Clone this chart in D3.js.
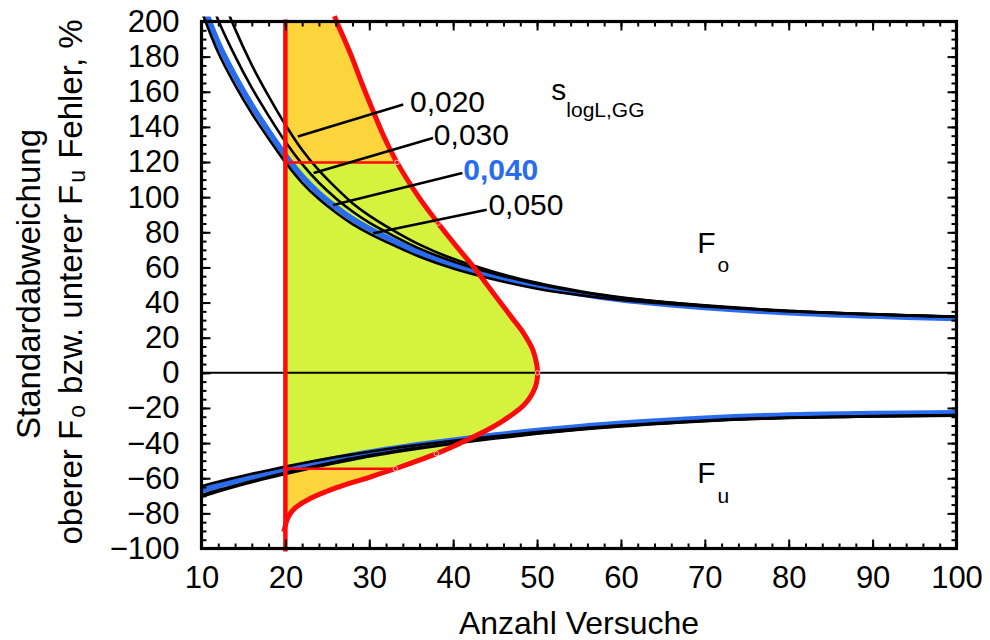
<!DOCTYPE html>
<html>
<head>
<meta charset="utf-8">
<script src="https://cdn.jsdelivr.net/npm/d3@7/dist/d3.min.js"></script>
<style>
  html, body { margin: 0; padding: 0; background: #ffffff; }
  svg { display: block; font-family: "Liberation Sans", Arial, sans-serif; }
</style>
</head>
<body>
<svg id="chart" width="990" height="640"></svg>
<script>
// ---------------- DATA ----------------
const nValues = [10,12,14,16,18,20,22,24,26,28,30,33,36,40,45,50,55,60,70,80,90,100];

// upper error F_o (%) for s_logL,GG
const foS020 = [250,219.7,195.8,175.2,157.5,141.2,126.8,115.2,105.4,96.6,89.5,80.7,73,64.9,57.3,51.2,46.6,43,38.4,35.3,33.4,32];
const foS030 = [228,200.7,180.3,162.2,146.3,131.5,118.8,108.2,99.4,91.8,85.5,77.7,70.7,63.4,56.3,50.6,46.2,42.7,38.2,35.1,33.2,31.8];
const foS040 = [212,187.7,168.8,152.2,137.5,123.7,111.8,102.2,94.4,87.6,82,74.9,68.5,61.7,55,49.4,45.1,41.7,37.3,34.3,32.4,31];
const foS050 = [206,182.2,163.8,147.6,133.3,119.8,108.2,98.9,91.3,84.7,79.3,72.4,66.1,59.4,53,47.9,44.3,41.5,37.8,35.1,33.3,31.9];

// lower error F_u (%)
const fuS020 = [-70.6,-67.6,-64.9,-62.3,-59.9,-57.6,-55.4,-53.3,-51.3,-49.4,-47.6,-45.2,-43,-40.4,-37.4,-34.7,-32.4,-30.5,-27.5,-25.7,-24.9,-24.4];
const fuS030 = [-69.6,-66.7,-64.1,-61.6,-59.2,-56.9,-54.7,-52.6,-50.6,-48.7,-47,-44.6,-42.5,-39.9,-37,-34.4,-32.2,-30.3,-27.4,-25.6,-24.8,-24.3];
const fuS040 = [-67,-64.2,-61.7,-59.3,-57,-54.8,-52.7,-50.7,-48.8,-47,-45.3,-43,-40.9,-38.4,-35.5,-32.9,-30.7,-28.8,-25.9,-24.1,-23.3,-22.8];
const fuS050 = [-64.6,-62,-59.7,-57.5,-55.4,-53.4,-51.5,-49.7,-48,-46.4,-44.9,-42.8,-40.9,-38.7,-36.1,-33.7,-31.7,-29.9,-27.1,-25.4,-24.6,-24.1];

// red distribution curve (error value -> number of tests)
const redV = [-90.5,-88,-85,-82,-79,-76.4,-71.7,-65.4,-59.3,-54.6,-50,-46,-41.5,-37.4,-32.7,-28,-23.2,-18.5,-13.7,-8,-4,0,5,13,22.5,32,41.5,51,60.5,72,85.2,100,119.8,135,149.7,165,180,200,203];
const redN = [19.8,19.95,20.1,20.35,20.75,21.3,22.9,26.1,30.1,33.1,35.8,38.0,40.2,42.0,44.0,45.7,47.2,48.4,49.2,49.8,50.0,50.06,49.95,49.5,48.4,46.9,45.4,43.9,42.4,40.4,38.2,35.9,33.3,31.7,30.4,29.1,27.9,26.1,25.85];

const markerN = [33.3,38.2,50.06,38.0,33.1];
const markerV = [119.8,85.2,0,-46,-54.6];

const minTests = 20;
const bandUpper = 119.8;
const bandLower = -54.6;
const bandUpperN = 33.3;
const bandLowerN = 33.1;

// curve labels and leaders
const labelTexts = ["0,020","0,030","0,040","0,050"];
const leaderStartN = [34.05,37.6,41.1,44.0];
const leaderStartV = [152.7,133.7,113.7,92.8];
const leaderEndN = [21.48,23.37,25.7,30.47];
const leaderEndV = [134.6,113.7,95.6,79.5];
const labelN = [34.85,37.7,41.2,44.2];
const labelV = [148.7,129.9,109.9,89.9];

const xMajor = [10,20,30,40,50,60,70,80,90,100];
const xMinor = d3.range(10,101,2);
const yMajor = [-100,-80,-60,-40,-20,0,20,40,60,80,100,120,140,160,180,200];
const yMinor = d3.range(-100,201,5);

// ---------------- CHART ----------------
const svg = d3.select("#chart");
const x = d3.scaleLinear().domain([10,100]).range([201.5,956.5]);
const y = d3.scaleLinear().domain([-100,200]).range([548.5,21.5]);

const BLUE = "#2a6cf0";
const RED = "#ff0a0a";
const ORANGE = "#fcd43b";
const GREEN = "#d5f23e";

const defs = svg.append("defs");
defs.append("clipPath").attr("id","plotClip").append("rect")
  .attr("x", x(10)-3).attr("y", y(200)-5)
  .attr("width", x(100)-x(10)+6).attr("height", y(-100)-y(200)+5);
defs.append("clipPath").attr("id","greenClip").append("rect")
  .attr("x", x(10)).attr("y", y(bandUpper))
  .attr("width", x(100)-x(10)).attr("height", y(bandLower)-y(bandUpper));
defs.append("clipPath").attr("id","innerClip").append("rect")
  .attr("x", x(10)).attr("y", y(200))
  .attr("width", x(100)-x(10)).attr("height", y(-100)-y(200));

const redData = redV.map((v,i)=>({v, n: redN[i]}));

// fills
const area = d3.area()
  .y(d=>y(d.v)).x0(x(minTests)).x1(d=>x(d.n))
  .curve(d3.curveCatmullRom);
svg.append("path").datum(redData.filter(d=>d.v>=-88))
  .attr("d", area).attr("fill", ORANGE).attr("clip-path","url(#innerClip)");
svg.append("path").datum(redData)
  .attr("d", area).attr("fill", GREEN).attr("clip-path","url(#greenClip)");

// zero line
svg.append("line")
  .attr("x1", x(10)).attr("x2", x(100)).attr("y1", y(0)).attr("y2", y(0))
  .attr("stroke","#000").attr("stroke-width",2);

// error curves
const plot = svg.append("g").attr("clip-path","url(#plotClip)");
const line = d3.line().x(d=>x(d[0])).y(d=>y(d[1])).curve(d3.curveCatmullRom);
const series = (vals)=> nValues.map((n,i)=>[n, vals[i]]);

[foS040, fuS040].forEach(vals=>{
  plot.append("path").datum(series(vals)).attr("d", line)
    .attr("fill","none").attr("stroke", BLUE).attr("stroke-width",5.8);
});
[foS050, foS030, foS020, fuS050, fuS030, fuS020].forEach(vals=>{
  plot.append("path").datum(series(vals)).attr("d", line)
    .attr("fill","none").attr("stroke","#000").attr("stroke-width",2.6);
});

// red horizontal lines
[[bandUpper,bandUpperN],[bandLower,bandLowerN]].forEach(([v,n])=>{
  svg.append("line")
    .attr("x1", x(minTests)).attr("x2", x(n)).attr("y1", y(v)).attr("y2", y(v))
    .attr("stroke", RED).attr("stroke-width",2.5);
});

// red distribution curve
const redLine = d3.line().x(d=>x(d.n)).y(d=>y(d.v)).curve(d3.curveCatmullRom);
svg.append("path").datum(redData).attr("d", redLine)
  .attr("fill","none").attr("stroke", RED).attr("stroke-width",5)
  .attr("stroke-linejoin","round");

// red vertical line
svg.append("line")
  .attr("x1", x(minTests)).attr("x2", x(minTests))
  .attr("y1", y(200)-2).attr("y2", y(-100)+3)
  .attr("stroke", RED).attr("stroke-width",4.5);

// markers
svg.selectAll("circle.mk").data(markerN.map((n,i)=>({n, v: markerV[i]})))
  .enter().append("circle")
  .attr("cx", d=>x(d.n)).attr("cy", d=>y(d.v)).attr("r",2.3)
  .attr("fill","none").attr("stroke","#ffd0d0").attr("stroke-width",0.9);

// leaders + labels
labelTexts.forEach((t,i)=>{
  svg.append("line")
    .attr("x1", x(leaderStartN[i])).attr("y1", y(leaderStartV[i]))
    .attr("x2", x(leaderEndN[i])).attr("y2", y(leaderEndV[i]))
    .attr("stroke","#000").attr("stroke-width",2.6);
  svg.append("text")
    .attr("x", x(labelN[i])).attr("y", y(labelV[i]))
    .attr("font-size", 30)
    .attr("font-weight", i===2 ? "bold" : "normal")
    .attr("fill", i===2 ? BLUE : "#000")
    .text(t);
});

// axes (ticks inside)
function styleAxis(g){
  g.select(".domain").remove();
  g.selectAll(".tick line").attr("stroke","#000").attr("stroke-width",2);
  g.selectAll(".tick text").attr("font-size",31).attr("fill","#000")
    .attr("font-family",'"Liberation Sans", Arial, sans-serif');
}
const H = y(-100), T = y(200), L = x(10), R = x(100);
svg.append("g").attr("transform",`translate(0,${H})`)
  .call(d3.axisBottom(x).tickValues(xMinor).tickSize(-5).tickFormat("")).call(styleAxis);
svg.append("g").attr("transform",`translate(0,${H})`)
  .call(d3.axisBottom(x).tickValues(xMajor).tickSize(-9).tickPadding(17).tickFormat(d3.format("d"))).call(styleAxis);
svg.append("g").attr("transform",`translate(0,${T})`)
  .call(d3.axisTop(x).tickValues(xMinor).tickSize(-5).tickFormat("")).call(styleAxis);
svg.append("g").attr("transform",`translate(0,${T})`)
  .call(d3.axisTop(x).tickValues(xMajor).tickSize(-9).tickFormat("")).call(styleAxis);
svg.append("g").attr("transform",`translate(${L},0)`)
  .call(d3.axisLeft(y).tickValues(yMinor).tickSize(-5).tickFormat("")).call(styleAxis);
svg.append("g").attr("transform",`translate(${L},0)`)
  .call(d3.axisLeft(y).tickValues(yMajor).tickSize(-9).tickPadding(22).tickFormat(d3.format("d"))).call(styleAxis);
svg.append("g").attr("transform",`translate(${R},0)`)
  .call(d3.axisRight(y).tickValues(yMinor).tickSize(-5).tickFormat("")).call(styleAxis);
svg.append("g").attr("transform",`translate(${R},0)`)
  .call(d3.axisRight(y).tickValues(yMajor).tickSize(-9).tickFormat("")).call(styleAxis);

// frame
svg.append("rect").attr("x",L).attr("y",T).attr("width",R-L).attr("height",H-T)
  .attr("fill","none").attr("stroke","#000").attr("stroke-width",3.2);

// annotations
const sLab = svg.append("text").attr("x", x(51.7)).attr("y", y(155.4)).attr("font-size",30);
sLab.append("tspan").text("s");
sLab.append("tspan").attr("font-size",21).attr("dy",17).text("logL,GG");

const foLab = svg.append("text").attr("x", x(69.1)).attr("y", y(68.2)).attr("font-size",30);
foLab.append("tspan").text("F");
foLab.append("tspan").attr("font-size",21).attr("dx",2).attr("dy",19).text("o");

const fuLab = svg.append("text").attr("x", x(69.1)).attr("y", y(-62.8)).attr("font-size",30);
fuLab.append("tspan").text("F");
fuLab.append("tspan").attr("font-size",21).attr("dx",2).attr("dy",20).text("u");

// axis titles
svg.append("text").attr("x",(L+R)/2).attr("y",634).attr("text-anchor","middle")
  .attr("font-size",32).text("Anzahl Versuche");

svg.append("text").attr("transform",`translate(40,284) rotate(-90)`)
  .attr("text-anchor","middle").attr("font-size",33).text("Standardabweichung");
const yt2 = svg.append("text").attr("transform",`translate(82,282) rotate(-90)`)
  .attr("text-anchor","middle").attr("font-size",33);
yt2.append("tspan").text("oberer F");
yt2.append("tspan").attr("font-size",23).attr("dx",2).attr("dy",3).text("o");
yt2.append("tspan").attr("dy",-3).attr("dx",2).text(" bzw. unterer F");
yt2.append("tspan").attr("font-size",23).attr("dx",2).attr("dy",3).text("u");
yt2.append("tspan").attr("dy",-3).attr("dx",2).text(" Fehler, %");
</script>
</body>
</html>
